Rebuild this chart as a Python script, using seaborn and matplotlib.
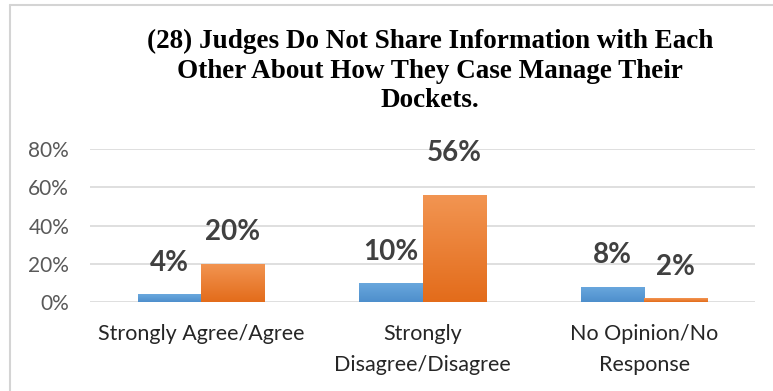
import matplotlib
matplotlib.use("Agg")
import matplotlib.pyplot as plt
import numpy as np
import pandas as pd
import seaborn as sns
from matplotlib.colors import LinearSegmentedColormap
from matplotlib.lines import Line2D

# ---- data -------------------------------------------------------------
categories = ["Strongly Agree/Agree", "Strongly\nDisagree/Disagree", "No Opinion/No\nResponse"]
series_names = ["Group A", "Group B"]
group_a = [0.04, 0.10, 0.08]
group_b = [0.20, 0.56, 0.02]
y_ticks = [0.0, 0.2, 0.4, 0.6, 0.8]
title = "(28) Judges Do Not Share Information with Each\nOther About How They Case Manage Their\nDockets."

df = pd.DataFrame({
    "category": categories * 2,
    "series": [series_names[0]] * 3 + [series_names[1]] * 3,
    "value": group_a + group_b,
})

# ---- styling ----------------------------------------------------------
sns.set_theme(style="white")
plt.rcParams["font.family"] = ["Lato", "DejaVu Sans"]

blue = "#5B9BD5"
orange = "#ED7D31"
grad = {
    series_names[0]: ("#6AA8DE", "#4E8FCC"),
    series_names[1]: ("#F29552", "#E36C1B"),
}

fig = plt.figure(figsize=(7.73, 3.91), dpi=100)
ax = fig.add_axes([90 / 773, 1 - 302 / 391, 665 / 773, 153 / 391])

sns.barplot(data=df, x="category", y="value", hue="series",
            palette=[blue, orange], width=0.57, gap=0, dodge=True,
            saturation=1, legend=False, ax=ax, errorbar=None)

ax.set_ylim(0, 0.8)
ax.set_xlim(-0.5, 2.5)
ax.set_yticks(y_ticks)
ax.set_yticklabels([f"{int(round(t * 100))}%" for t in y_ticks])
ax.set_xlabel("")
ax.set_ylabel("")
ax.grid(axis="y", color="#D9D9D9", linewidth=1.2)
ax.set_axisbelow(True)
for s in ax.spines.values():
    s.set_visible(False)
ax.tick_params(axis="y", length=0, pad=15, labelsize=15, labelcolor="#595959")
ax.tick_params(axis="x", length=0, pad=16, labelsize=15.5, labelcolor="#262626")
for lbl in ax.get_xticklabels():
    lbl.set_linespacing(1.7)

# vertical gradient fill on each bar, lighter at the top
for container, name in zip(ax.containers, series_names):
    cmap = LinearSegmentedColormap.from_list(name, [grad[name][1], grad[name][0]])
    for patch in container.patches:
        x0, y0 = patch.get_x(), patch.get_y()
        w, h = patch.get_width(), patch.get_height()
        img = ax.imshow(np.linspace(0, 1, 64).reshape(-1, 1), cmap=cmap,
                        extent=[x0, x0 + w, y0, y0 + h], origin="lower",
                        aspect="auto", zorder=patch.get_zorder() + 0.1)
        img.set_clip_path(patch)
        patch.set_edgecolor("none")
ax.set_xlim(-0.5, 2.5)
ax.set_ylim(0, 0.8)

# value labels above the bars
nudge = {0.56: 8}
for container in ax.containers:
    for patch, val in zip(container.patches, container.datavalues):
        extra = nudge.get(round(float(val), 2), 0)
        ax.annotate(f"{val * 100:.0f}%",
                    (patch.get_x() + patch.get_width() / 2, patch.get_height()),
                    xytext=(0, 22.5 + extra), textcoords="offset points",
                    ha="center", va="center", fontsize=20, fontweight="bold",
                    color="#404040")

# chart title
fig.text(430 / 773, 1 - 71 / 391, title, ha="center", va="center",
         fontsize=19.5, fontweight="bold", family=["Liberation Serif", "DejaVu Serif"],
         color="#000000", linespacing=1.25)

# chart frame (top and left edges)
fig.add_artist(Line2D([10 / 773, 1.0], [1 - 5 / 391, 1 - 5 / 391],
                      transform=fig.transFigure, color="#D4D4D4", linewidth=1.5))
fig.add_artist(Line2D([10 / 773, 10 / 773], [0.0, 1 - 5 / 391],
                      transform=fig.transFigure, color="#D4D4D4", linewidth=1.5))

fig.savefig("out.png", dpi=100, facecolor="white")
